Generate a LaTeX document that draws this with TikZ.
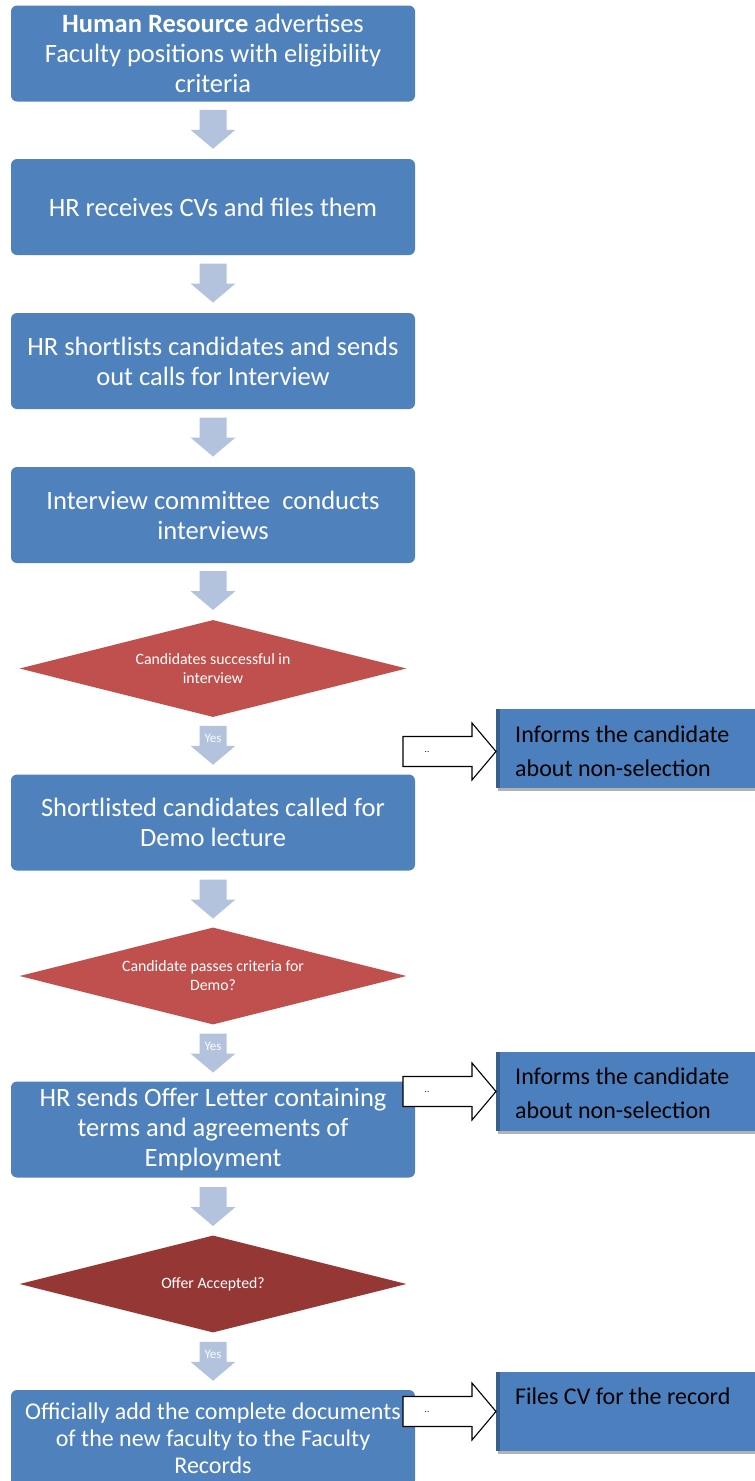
\documentclass[tikz,border=0pt]{standalone}
\usepackage{fontspec}
\setmainfont{Carlito}
\usetikzlibrary{shapes.geometric,shadows,calc}
\definecolor{boxblue}{RGB}{79,129,189}
\definecolor{sideblue}{RGB}{76,127,189}
\definecolor{decred}{RGB}{192,80,77}
\definecolor{decdark}{RGB}{149,55,53}
\definecolor{arrowblue}{RGB}{179,195,222}
\tikzset{
  procbox/.style={rectangle, rounded corners=6pt, fill=boxblue, text=white,
    minimum width=404pt, minimum height=96pt, inner sep=0pt, align=center,
    font=\fontsize{26.5}{30}\selectfont},
  decision/.style={diamond, fill=decred, text=white, shape aspect=4,
    minimum width=387pt, minimum height=97pt, inner sep=0pt, align=center,
    font=\fontsize{15.8}{19}\selectfont},
  downarr/.style={fill=arrowblue},
  noarr/.style={draw=black, fill=white, line width=1.1pt, line join=miter},
  sidebox/.style={rectangle, fill=sideblue, text=black, anchor=west,
    inner sep=0pt, font=\fontsize{24}{34}\selectfont,
    drop shadow={shadow xshift=2pt, shadow yshift=-3pt, fill=black!60, opacity=0.5},
    path picture={\fill[sideblue!75!black] (path picture bounding box.south west) rectangle ([xshift=4pt]path picture bounding box.north west);}},
  yeslbl/.style={text=white!95!arrowblue, font=\fontsize{13}{13}\selectfont, inner sep=0pt},
  nolbl/.style={text=black, font=\fontsize{9}{9}\selectfont, inner sep=0pt}
}
\newcommand{\sidetext}[1]{\hspace*{19pt}\parbox[c][79pt][t]{275pt}{\rule{0pt}{33pt}#1}}
% block arrow pointing down, centred on coordinate #1 (y axis points down)
\newcommand{\blockdown}[1]{%
  \fill[downarr] ($(#1)+(-13.5,-19.5)$) -- ($(#1)+(13.5,-19.5)$) -- ($(#1)+(13.5,0.5)$)
    -- ($(#1)+(22.5,0.5)$) -- ($(#1)+(0,19.5)$) -- ($(#1)+(-22.5,0.5)$)
    -- ($(#1)+(-13.5,0.5)$) -- cycle;}
% white block arrow pointing right, tip at coordinate #1
\newcommand{\blockright}[1]{%
  \draw[noarr] (#1) -- ($(#1)+(-24,-28.5)$) -- ($(#1)+(-24,-15)$) -- ($(#1)+(-93,-15)$)
    -- ($(#1)+(-93,15)$) -- ($(#1)+(-24,15)$) -- ($(#1)+(-24,28.5)$) -- cycle;}
\begin{document}
\begin{tikzpicture}[x=1pt,y=-1pt]
\useasboundingbox (0,0) rectangle (755,1481);
\clip (0,0) rectangle (755,1481);
% main flow
\node[procbox] (b1) at (213,53.5) {\textbf{Human Resource} advertises\\Faculty positions with eligibility\\criteria};
\node[procbox] (b2) at (213,207) {HR receives CVs and files them};
\node[procbox] (b3) at (213,361) {HR shortlists candidates and sends\\out calls for Interview};
\node[procbox] (b4) at (213,515) {Interview committee\ \ conducts\\interviews};
\node[decision] (d1) at (213,668.5) {Candidates successful in\\interview};
\node[procbox] (b5) at (213,822.5) {Shortlisted candidates called for\\Demo lecture};
\node[decision] (d2) at (213,976) {Candidate passes criteria for\\Demo?};
\node[procbox] (b6) at (213,1129.5) {HR sends Offer Letter containing\\terms and agreements of\\Employment};
\node[decision, fill=decdark] (d3) at (213,1284) {Offer Accepted?};
\node[procbox, font=\fontsize{24}{27}\selectfont] (b7) at (213,1438) {Officially add the complete documents\\of the new faculty to the Faculty\\Records};
% down arrows
\coordinate (a1) at ($(b1.south)!0.5!(b2.north)+(0,-1)$);
\coordinate (a2) at ($(b2.south)!0.5!(b3.north)+(0,-1)$);
\coordinate (a3) at ($(b3.south)!0.5!(b4.north)+(0,-1)$);
\coordinate (a4) at ($(b4.south)!0.5!(d1.north)+(0,-1)$);
\coordinate (a5) at ($(d1.south)!0.5!(b5.north)+(0,-0.5)$);
\coordinate (a6) at ($(b5.south)!0.5!(d2.north)+(0,0)$);
\coordinate (a7) at ($(d2.south)!0.5!(b6.north)+(0,0)$);
\coordinate (a8) at ($(b6.south)!0.5!(d3.north)+(0,0)$);
\coordinate (a9) at ($(d3.south)!0.5!(b7.north)+(0,0)$);
\foreach \a in {a1,a2,a3,a4,a5,a6,a7,a8,a9} {\blockdown{\a}}
\node[yeslbl] (y1) at ($(a5)+(0,-6.5)$) {Yes};
\node[yeslbl] (y2) at ($(a7)+(0,-6.5)$) {Yes};
\node[yeslbl] (y3) at ($(a9)+(0,-6.5)$) {Yes};
% side boxes
\node[sidebox] (r1) at (496,748.5) {\sidetext{Informs the candidate\\about non-selection}};
\node[sidebox] (r2) at (496,1091) {\sidetext{Informs the candidate\\about non-selection}};
\node[sidebox] (r3) at (496,1411) {\sidetext{Files CV for the record}};
% white "No" arrows
\coordinate (t1) at ($(r1.west)+(0,3)$);
\coordinate (t2) at ($(r2.west)+(0,0.5)$);
\coordinate (t3) at ($(r3.west)+(0,0.5)$);
\foreach \t in {t1,t2,t3} {\blockright{\t}}
\node[nolbl] (l1) at ($(t1)+(-69,1)$) {..};
\node[nolbl] (l2) at ($(t2)+(-69,1)$) {..};
\node[nolbl] (l3) at ($(t3)+(-69,1)$) {..};
\end{tikzpicture}
\end{document}
